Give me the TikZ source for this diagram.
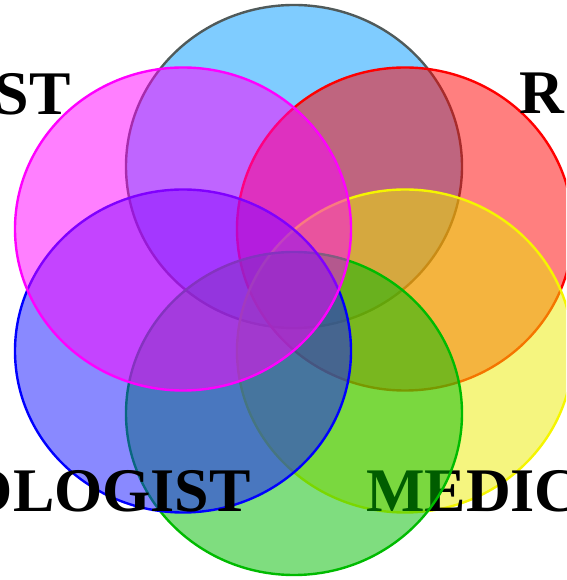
\documentclass[tikz,border=0pt]{standalone}
\usepackage{fontspec}
\setmainfont{Liberation Serif}
\definecolor{skyfill}{RGB}{0,153,255}
\definecolor{skyline}{RGB}{80,90,90}
\definecolor{redset}{RGB}{255,0,0}
\definecolor{yellowfill}{RGB}{235,235,0}
\definecolor{yellowline}{RGB}{245,245,0}
\definecolor{greenset}{RGB}{0,187,0}
\definecolor{blueset}{RGB}{20,20,255}
\definecolor{blueline}{RGB}{0,0,255}
\definecolor{magentaset}{RGB}{255,0,255}
\tikzset{
  setshape/.style={line width=2.4pt, fill opacity=0.5, x radius=168pt, y radius=161.5pt},
  setlabel/.style={inner sep=0pt, font=\bfseries\fontsize{62}{62}\selectfont, text=black},
}
\begin{document}
\begin{tikzpicture}[x=1pt,y=1pt]
  \useasboundingbox (0,0) rectangle (566,580);
  \clip (0,0) rectangle (566,580);
  % six sets on a hexagon, drawn back to front
  \path[setshape, draw=skyline, fill=skyfill] (294,413.5) ellipse [];
  \path[setshape, draw=redset, fill=redset] (405,351) ellipse [];
  \node[setlabel, anchor=base west] (lr) at (519,466) {R};
  \path[setshape, draw=yellowline, fill=yellowfill] (405,229) ellipse [];
  \node[setlabel, anchor=base west] (lmed) at (366,68) {MEDIC};
  \path[setshape, draw=greenset, fill=greenset] (294,166.5) ellipse [];
  \path[setshape, draw=blueline, fill=blueset] (183,229) ellipse [];
  \node[setlabel, anchor=base east] (lolo) at (251,68) {DOLOGIST};
  \path[setshape, draw=magentaset, fill=magentaset] (183,351) ellipse [];
  \node[setlabel, anchor=base east] (lst) at (71,465) {ST};
\end{tikzpicture}
\end{document}
